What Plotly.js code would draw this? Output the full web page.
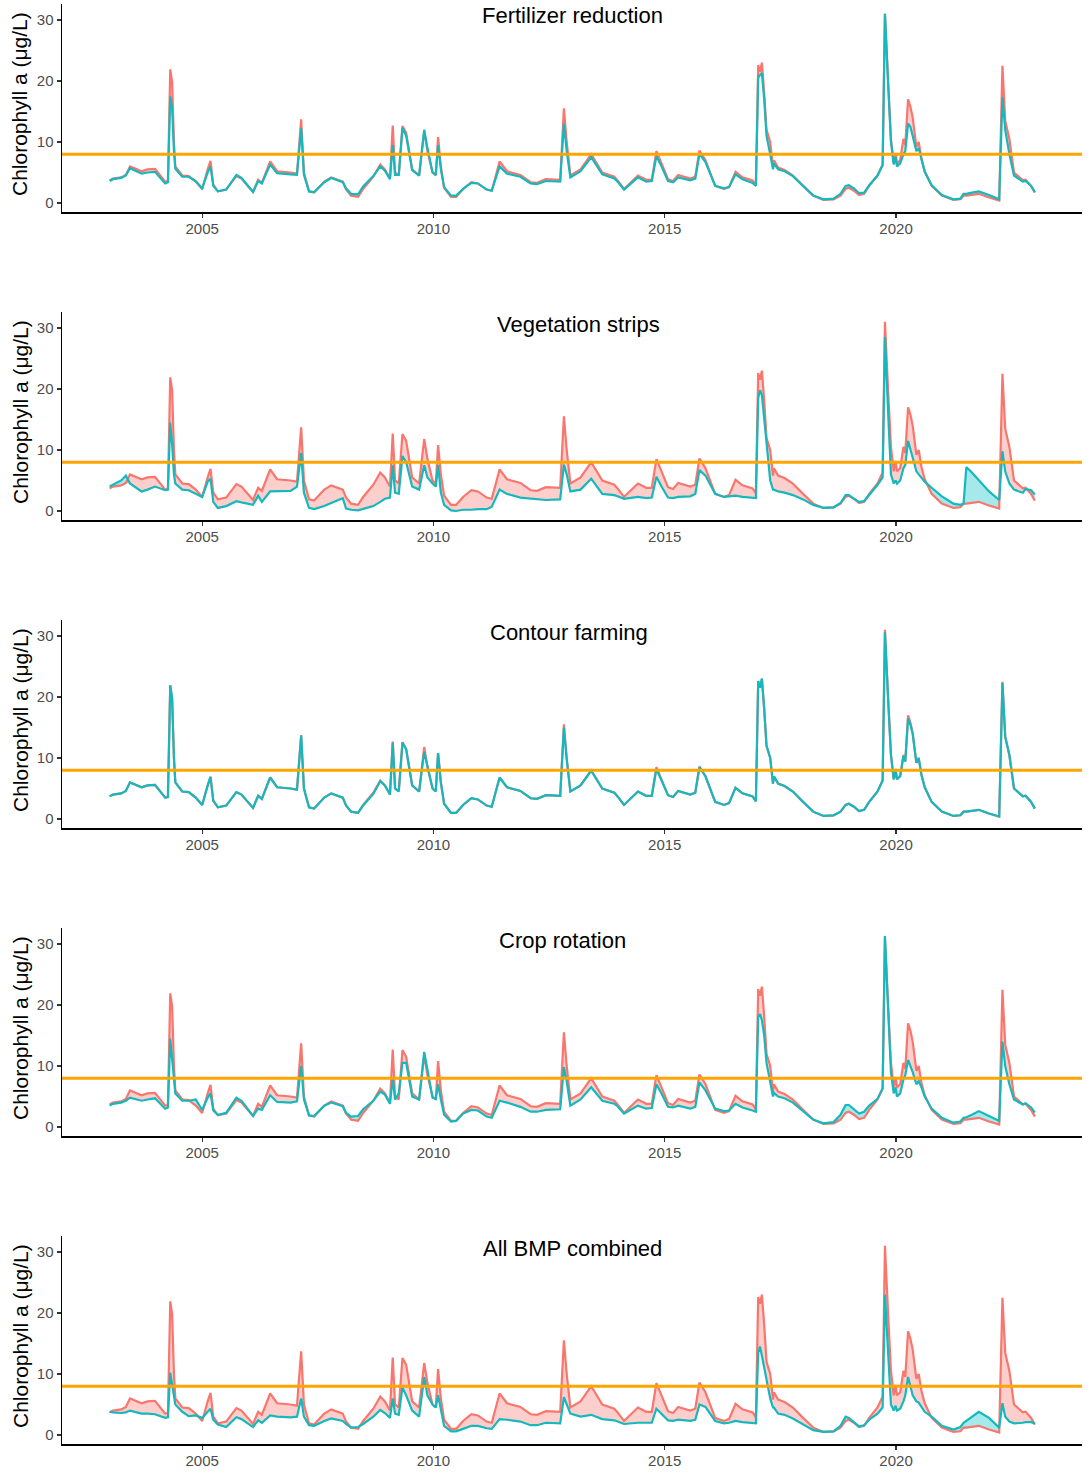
<!DOCTYPE html>
<html>
<head>
<meta charset="utf-8">
<script src="https://cdn.plot.ly/plotly-3.0.1.min.js"></script>
<style>html,body{margin:0;padding:0;background:#fff;}#chart{width:1090px;height:1479px;}</style>
</head>
<body>
<div id="chart"></div>
<script>
// ---- Data (decimal years; chlorophyll a in ug/L) ----
const years = [
2003.00,2003.07,2003.25,2003.35,2003.44,2003.69,2003.82,2003.98,2004.20,2004.26,
2004.31,2004.35,2004.39,2004.42,2004.57,2004.71,2004.86,2005.00,2005.12,2005.18,
2005.24,2005.34,2005.52,2005.74,2005.85,2006.10,2006.21,2006.29,2006.47,2006.62,
2006.91,2007.05,2007.14,2007.20,2007.31,2007.42,2007.64,2007.79,2008.04,2008.11,
2008.22,2008.37,2008.48,2008.70,2008.85,2008.95,2009.06,2009.12,2009.17,2009.25,
2009.33,2009.41,2009.54,2009.69,2009.80,2009.87,2009.98,2010.05,2010.10,2010.16,
2010.23,2010.38,2010.49,2010.64,2010.82,2010.96,2011.15,2011.26,2011.43,2011.59,
2011.88,2012.10,2012.24,2012.43,2012.74,2012.82,2012.88,2012.96,2013.18,2013.41,
2013.65,2013.91,2013.98,2014.12,2014.42,2014.60,2014.72,2014.82,2014.93,2015.07,
2015.18,2015.29,2015.55,2015.66,2015.75,2015.88,2016.09,2016.28,2016.39,2016.53,
2016.68,2016.90,2016.97,2017.02,2017.06,2017.10,2017.15,2017.20,2017.28,2017.34,
2017.36,2017.45,2017.59,2017.77,2017.99,2018.21,2018.43,2018.65,2018.80,2018.91,
2018.98,2019.09,2019.20,2019.31,2019.42,2019.60,2019.71,2019.76,2019.83,2019.89,
2019.95,2019.99,2020.02,2020.09,2020.16,2020.20,2020.26,2020.31,2020.36,2020.44,
2020.49,2020.55,2020.62,2020.77,2020.99,2021.24,2021.39,2021.46,2021.52,2021.64,
2021.79,2022.01,2022.23,2022.30,2022.36,2022.45,2022.55,2022.74,2022.80,2022.92,
2023.00];

const baseline = [
3.7,4.0,4.2,4.6,6.0,5.2,5.5,5.6,3.5,3.6,
21.9,19.8,10.0,6.0,4.5,4.4,3.5,2.3,5.5,6.9,
3.0,1.9,2.2,4.4,4.0,1.8,3.8,3.3,6.8,5.2,
5.0,4.8,13.7,5.0,1.9,1.7,3.5,4.2,3.5,2.2,
1.2,1.0,2.3,4.3,6.3,5.5,4.0,12.7,5.0,4.5,
12.6,11.5,5.5,4.5,11.8,8.5,5.0,4.5,10.8,6.0,
2.5,1.0,1.0,2.3,3.4,3.2,2.2,2.0,6.8,5.2,
4.6,3.4,3.3,3.9,3.8,15.5,10.0,4.5,5.5,8.0,
5.0,4.3,3.7,2.3,4.5,3.8,3.8,8.5,6.5,3.9,
3.6,4.6,4.0,4.3,8.6,7.0,2.8,2.3,2.6,5.1,
4.2,3.7,2.9,22.6,21.5,23.0,18.0,12.0,10.0,5.8,
7.0,5.8,5.4,4.5,2.8,1.2,0.5,0.6,1.2,2.3,
2.5,2.0,1.3,1.5,2.8,4.5,6.3,31.0,19.5,10.5,
6.5,8.2,6.5,7.0,10.5,9.5,17.0,15.8,14.0,9.2,
10.0,7.2,5.2,2.8,1.2,0.5,0.6,1.2,1.2,1.3,
1.5,0.9,0.4,22.5,13.5,10.5,5.0,3.7,3.8,2.8,
1.7];

const fertilizer = [
3.6,3.9,4.1,4.5,5.7,4.8,5.0,5.1,3.2,3.4,
17.5,15.5,8.5,5.6,4.3,4.3,3.6,2.4,5.0,6.0,
2.8,1.9,2.2,4.6,4.1,1.8,3.6,3.2,6.3,4.9,
4.7,4.6,12.3,4.6,1.9,1.8,3.4,4.1,3.4,2.4,
1.5,1.4,2.7,4.4,6.0,5.3,3.9,9.5,4.6,4.6,
12.3,11.0,5.4,4.5,12.0,9.0,5.0,4.6,9.5,5.5,
2.6,1.2,1.2,2.3,3.3,3.2,2.2,2.0,6.0,4.8,
4.3,3.2,3.1,3.6,3.5,13.0,8.5,4.2,5.2,7.5,
4.7,4.0,3.5,2.2,4.2,3.5,3.6,7.7,6.0,3.6,
3.4,4.2,3.7,4.0,8.0,6.7,2.8,2.4,2.6,4.7,
3.9,3.3,2.8,20.5,21.0,21.3,17.0,11.0,8.0,5.5,
6.5,5.5,5.2,4.4,2.8,1.2,0.6,0.7,1.5,2.8,
2.9,2.4,1.6,1.7,2.9,4.5,6.2,31.0,19.5,10.0,
6.3,7.5,6.0,6.5,8.0,8.5,13.0,12.5,11.0,8.5,
9.0,7.0,5.1,2.9,1.3,0.6,0.7,1.5,1.5,1.7,
1.9,1.3,0.6,17.3,12.0,8.0,4.5,3.5,3.6,2.8,
1.8];

const vegetation = [
4.0,4.3,5.0,5.8,4.5,3.2,3.5,4.0,3.4,3.5,
14.5,11.0,6.0,4.5,3.5,3.4,2.8,2.3,4.8,5.3,
1.5,0.5,0.8,1.6,1.4,1.0,2.5,1.5,3.2,3.2,
3.3,4.0,9.5,3.0,0.5,0.3,0.8,1.3,2.1,0.4,
0.2,0.1,0.3,0.8,1.5,2.0,2.2,7.5,3.0,2.8,
9.0,8.0,4.0,3.5,7.5,5.5,4.5,4.0,7.5,3.0,
1.0,0.1,0.0,0.2,0.2,0.3,0.3,0.7,3.5,2.8,
2.2,2.0,1.9,1.8,1.9,7.6,6.0,3.2,3.5,5.3,
2.8,2.6,2.4,2.0,2.3,2.1,2.2,5.6,4.0,2.2,
2.1,2.3,2.4,2.8,6.7,5.8,2.8,2.3,2.4,2.5,
2.3,2.2,2.1,18.5,19.8,19.0,15.0,11.5,5.0,3.5,
3.5,3.2,3.0,2.6,1.9,1.0,0.5,0.6,1.3,2.6,
2.6,2.0,1.5,1.6,2.6,4.3,5.5,28.5,16.0,6.0,
4.5,5.0,4.5,5.0,7.0,7.5,11.5,10.0,9.0,6.5,
6.0,5.5,4.8,3.8,2.4,1.2,1.0,1.2,7.2,6.3,
5.0,3.2,1.8,9.8,6.5,4.5,3.5,3.0,3.6,3.4,
2.7];

const contour = [
3.7,4.0,4.2,4.6,6.0,5.2,5.5,5.6,3.5,3.6,
21.9,19.8,10.0,6.0,4.5,4.4,3.5,2.3,5.5,6.9,
3.0,1.9,2.2,4.4,4.0,1.8,3.8,3.3,6.8,5.2,
5.0,4.8,13.7,5.0,1.9,1.7,3.5,4.2,3.5,2.2,
1.2,1.0,2.2,4.1,6.2,5.5,4.0,12.5,5.0,4.5,
12.5,11.4,5.5,4.5,11.0,8.5,5.0,4.5,10.8,6.0,
2.5,1.0,1.0,2.3,3.4,3.2,2.2,2.0,6.8,5.2,
4.6,3.4,3.3,3.9,3.8,15.0,9.8,4.5,5.5,7.9,
5.0,4.3,3.7,2.3,4.5,3.8,3.8,8.2,6.4,3.9,
3.6,4.6,4.0,4.3,8.5,7.0,2.8,2.3,2.6,5.1,
4.2,3.7,2.9,22.6,21.5,23.0,18.0,12.0,10.0,5.8,
7.0,5.8,5.4,4.5,2.8,1.2,0.5,0.6,1.2,2.3,
2.5,2.0,1.3,1.5,2.8,4.5,6.3,30.6,19.5,10.5,
6.5,8.0,6.5,7.0,10.3,9.4,16.5,15.5,14.0,9.2,
10.0,7.2,5.2,2.8,1.2,0.5,0.6,1.2,1.2,1.3,
1.5,0.9,0.4,22.3,13.5,10.5,5.0,3.7,3.8,2.8,
1.7];

const cropRotation = [
3.5,3.8,4.0,4.3,4.8,4.3,4.5,4.7,3.0,3.2,
14.5,11.5,7.5,5.5,4.3,4.3,4.5,2.8,4.8,5.5,
2.7,2.0,2.3,4.8,4.3,1.8,3.0,2.8,5.2,4.1,
4.0,4.2,10.0,4.5,1.9,1.8,3.5,4.0,3.4,2.3,
1.7,1.8,2.9,4.3,5.8,5.3,3.8,8.0,4.5,5.5,
10.5,10.5,5.0,4.5,12.3,9.5,4.8,4.6,7.0,4.5,
2.0,0.9,1.0,2.2,2.8,2.7,1.7,1.5,4.3,4.0,
3.3,2.5,2.5,2.8,2.9,9.8,7.5,3.5,4.5,6.5,
4.3,3.8,3.4,2.2,3.5,3.0,3.1,7.0,5.5,3.3,
3.2,3.5,3.0,3.3,7.3,6.0,3.0,2.6,2.7,3.8,
3.2,2.7,2.5,18.0,18.5,17.5,15.0,10.5,7.0,5.0,
5.6,5.0,4.7,4.0,2.6,1.2,0.6,0.8,2.0,3.6,
3.6,2.9,2.2,2.5,3.5,4.6,6.3,31.3,19.0,9.0,
5.5,6.5,5.0,5.5,7.8,8.5,11.0,10.0,9.0,7.0,
7.5,6.5,5.0,3.0,1.5,0.7,0.9,1.5,1.6,2.0,
2.6,1.8,1.0,14.0,10.0,7.0,4.5,3.7,3.9,3.2,
2.4];

const allBMP = [
3.8,3.7,3.6,3.7,4.0,3.5,3.5,3.4,2.8,2.9,
10.2,8.5,6.5,5.0,3.8,3.1,3.2,2.8,3.8,4.3,
2.5,1.7,1.3,2.9,2.6,1.3,2.4,2.0,3.2,3.0,
2.9,3.0,6.0,3.0,1.6,1.5,2.3,2.7,2.3,1.8,
1.2,1.3,1.8,3.0,4.1,3.6,2.8,6.0,3.5,3.3,
7.8,6.5,4.0,3.0,9.5,6.5,5.0,4.5,6.5,4.0,
1.5,0.6,0.6,1.0,1.5,1.5,1.1,1.0,2.6,2.5,
2.2,1.6,1.6,2.0,1.9,6.2,5.0,3.5,3.0,3.3,
2.6,2.4,2.2,1.8,2.0,2.0,2.0,4.3,3.5,2.4,
2.3,2.5,2.3,2.5,5.0,4.6,2.3,1.9,2.0,2.3,
2.1,2.0,1.9,13.5,14.5,13.0,11.0,9.0,6.0,4.5,
4.5,3.5,3.3,2.7,1.8,0.8,0.5,0.6,1.5,3.0,
2.8,2.1,1.4,1.6,2.5,3.5,4.5,23.0,12.0,5.0,
4.0,4.8,4.0,4.3,5.5,6.5,9.5,8.0,6.5,5.5,
5.3,4.6,3.8,3.0,1.5,0.9,1.3,2.0,2.3,3.0,
3.8,2.8,1.2,5.2,3.0,2.2,1.9,2.0,2.1,2.1,
1.9];

const panelTitles = ["Fertilizer reduction","Vegetation strips","Contour farming","Crop rotation","All BMP combined"];
const scenarios = [fertilizer, vegetation, contour, cropRotation, allBMP];
const xTickVals = [2005, 2010, 2015, 2020];
const xTickText = ["2005", "2010", "2015", "2020"];
const yTickVals = [0, 10, 20, 30];
const yTickText = ["0", "10", "20", "30"];
const threshold = 8;
const yTitle = "Chlorophyll a (\u03bcg/L)";

// ---- Styling / layout ----
const W = 1090, H = 1479;
const M = {l: 62, r: 8, t: 4, b: 35};
const plotH = H - M.t - M.b;      // 1440
const plotW = W - M.l - M.r;      // 1020
const panelTop = [4, 312, 620, 928, 1236];
const panelHeight = 208;
const titleCenterX = [572, 578, 569, 562, 572];
const RED = '#F8766D', TEAL = '#14B8BD';
const FONT = 'Liberation Sans, Arial, Helvetica, sans-serif';
const py = p => (H - M.b - p) / plotH;
const px = p => (p - M.l) / plotW;

const data = [];
const layout = {
  width: W, height: H,
  margin: M,
  paper_bgcolor: '#fff', plot_bgcolor: '#fff',
  showlegend: false,
  font: {family: FONT},
  shapes: [], annotations: []
};

scenarios.forEach((scen, i) => {
  const s = i === 0 ? '' : String(i + 1);
  const xa = 'x' + s, ya = 'y' + s;
  const lower = baseline.map((v, k) => Math.min(v, scen[k]));
  const common = {type: 'scatter', mode: 'lines', x: years, xaxis: xa, yaxis: ya, hoverinfo: 'skip'};
  data.push(Object.assign({}, common, {y: lower, line: {width: 0, color: 'rgba(0,0,0,0)'}}));
  data.push(Object.assign({}, common, {y: baseline, fill: 'tonexty', fillcolor: 'rgba(248,118,109,0.35)', line: {width: 0, color: 'rgba(0,0,0,0)'}}));
  data.push(Object.assign({}, common, {y: lower, line: {width: 0, color: 'rgba(0,0,0,0)'}}));
  data.push(Object.assign({}, common, {y: scen, fill: 'tonexty', fillcolor: 'rgba(0,191,196,0.35)', line: {width: 0, color: 'rgba(0,0,0,0)'}}));
  data.push(Object.assign({}, common, {y: baseline, line: {width: 2.2, color: RED}}));
  data.push(Object.assign({}, common, {y: scen, line: {width: 2.2, color: TEAL}}));

  const top = panelTop[i], bot = top + panelHeight;
  layout['xaxis' + s] = {
    domain: [0, 1], anchor: ya, range: [2001.97, 2024.02],
    tickvals: xTickVals, ticktext: xTickText,
    showline: true, linecolor: '#000', linewidth: 1.5,
    ticks: 'outside', ticklen: 4, tickwidth: 1.1, tickcolor: '#333',
    ticklabelstandoff: -2,
    tickfont: {size: 15, color: '#4D4D4D', family: FONT},
    showgrid: false, zeroline: false, fixedrange: true
  };
  layout['yaxis' + s] = {
    domain: [py(bot), py(top)], anchor: xa, range: [-1.48, 32.62],
    tickvals: yTickVals, ticktext: yTickText,
    showline: true, linecolor: '#000', linewidth: 1.5,
    ticks: 'outside', ticklen: 4, tickwidth: 1.1, tickcolor: '#333',
    tickfont: {size: 15, color: '#4D4D4D', family: FONT},
    showgrid: false, zeroline: false, fixedrange: true
  };
  layout.shapes.push({
    type: 'line', xref: xa + ' domain', x0: 0, x1: 1, yref: ya, y0: threshold, y1: threshold,
    line: {color: '#FFA500', width: 3}
  });
  layout.annotations.push({
    text: panelTitles[i], xref: 'paper', yref: 'paper',
    x: px(titleCenterX[i]), y: py(top + 12), xanchor: 'center', yanchor: 'middle',
    showarrow: false, font: {size: 22, color: '#000', family: FONT}
  });
  layout.annotations.push({
    text: yTitle, xref: 'paper', yref: 'paper', textangle: -90,
    x: px(20), y: py(top + panelHeight / 2 - 4), xanchor: 'center', yanchor: 'middle',
    showarrow: false, font: {size: 21, color: '#000', family: FONT}
  });
});

Plotly.newPlot('chart', data, layout, {staticPlot: true, displayModeBar: false});
</script>
</body>
</html>
